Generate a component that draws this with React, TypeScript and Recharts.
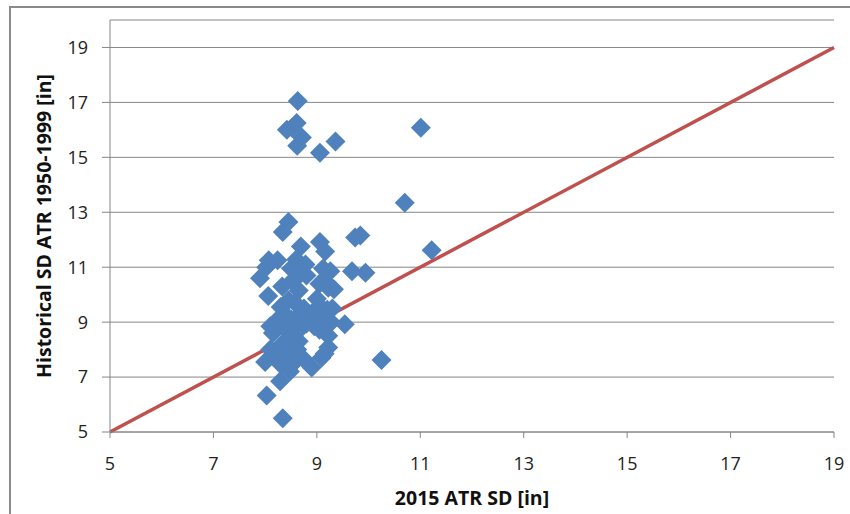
import {
  ScatterChart,
  Scatter,
  XAxis,
  YAxis,
  CartesianGrid,
  ReferenceLine,
  Label,
} from "recharts";

// 2015 ATR standard deviation per station [in]
const atr2015Sd = [
  8.63, 8.42, 8.52, 8.61, 8.71, 8.62, 9.06, 9.36, 11.01, 10.7,
  8.45, 8.34, 8.69, 9.06, 9.16, 9.74, 9.84, 11.22,
  7.9, 8.02, 8.07, 8.24, 8.06, 8.5, 8.6, 8.68, 8.78, 8.72,
  9.12, 9.26, 9.68, 9.94, 9.18, 9.33, 9.05, 8.33, 8.52, 8.65, 8.8, 9.22,
  8.3, 8.45, 8.58, 8.75, 8.9, 9.05, 9.2, 8.5, 8.65, 8.8,
  8.97, 9.13, 9.3, 9.54, 8.22, 8.1, 8.15, 8.4, 8.55, 8.7,
  9.05, 9.22, 8.35, 8.5, 8.65, 8.62, 9.22, 8.1, 8.0, 8.28,
  8.42, 8.48, 8.6, 8.75, 8.9, 9.09, 9.15, 10.25, 8.29, 8.03,
  8.34, 8.95, 9.0, 8.38, 8.2, 9.28,
];

// historical (1950-1999) ATR standard deviation for the same stations [in]
const historicalSd = [
  17.05, 16.0, 16.08, 16.25, 15.72, 15.42, 15.17, 15.58, 16.08, 13.35,
  12.65, 12.28, 11.75, 11.92, 11.57, 12.08, 12.15, 11.62,
  10.6, 11.0, 11.25, 11.25, 9.95, 10.95, 11.28, 10.75, 11.1, 11.0,
  10.95, 10.85, 10.85, 10.8, 10.45, 10.2, 10.4, 10.3, 10.5, 10.15, 10.7, 10.25,
  9.55, 9.8, 9.7, 9.5, 9.3, 9.6, 9.45, 9.1, 9.25, 8.95,
  9.1, 9.25, 9.5, 8.92, 9.05, 8.85, 8.6, 8.75, 8.5, 8.8,
  8.72, 8.5, 8.25, 8.0, 8.3, 8.0, 8.08, 8.0, 7.55, 7.5,
  7.8, 7.2, 7.6, 7.65, 7.35, 7.7, 7.85, 7.62, 6.85, 6.33,
  5.5, 8.85, 9.85, 9.3, 7.85, 9.0,
];

const axisTicks = [5, 7, 9, 11, 13, 15, 17, 19];

const points = atr2015Sd.map((x, i) => ({ x, y: historicalSd[i] }));

const font = "Open Sans, sans-serif";
const axisGray = "#868686";

function Diamond(props: any) {
  const { cx, cy } = props;
  const r = 10;
  return (
    <polygon
      points={`${cx},${cy - r} ${cx + r},${cy} ${cx},${cy + r} ${cx - r},${cy}`}
      fill="#4F81BD"
    />
  );
}

export default function App() {
  return (
    <div
      style={{
        position: "absolute",
        left: 0,
        top: 0,
        width: 850,
        height: 514,
        overflow: "hidden",
        background: "#fff",
      }}
    >
      <div
        style={{
          position: "absolute",
          left: 9,
          top: 6,
          width: 900,
          height: 600,
          border: "2px solid #8a8a8a",
        }}
      />
      <div style={{ position: "absolute", left: 0, top: 0 }}>
        <ScatterChart
          width={850}
          height={514}
          margin={{ top: 20, right: 16, bottom: 0, left: 0 }}
        >
          <CartesianGrid vertical={false} stroke={axisGray} strokeWidth={1} />
          <XAxis
            type="number"
            dataKey="x"
            domain={[5, 19]}
            ticks={axisTicks}
            height={82}
            stroke={axisGray}
            tickSize={6}
            tickMargin={19}
            tick={{ fill: "#222", fontSize: 18, fontFamily: font }}
            allowDataOverflow
          >
            <Label
              value="2015 ATR SD [in]"
              position="center"
              dy={25}
              style={{ fontFamily: font, fontSize: 19.5, fontWeight: 700, fill: "#111" }}
            />
          </XAxis>
          <YAxis
            type="number"
            dataKey="y"
            domain={[5, 20]}
            ticks={axisTicks}
            width={110}
            stroke={axisGray}
            tickSize={8}
            tickMargin={14}
            tick={{ fill: "#222", fontSize: 18, fontFamily: font }}
            allowDataOverflow
          >
            <Label
              value="Historical SD ATR 1950-1999 [in]"
              angle={-90}
              position="center"
              dx={-11}
              style={{ fontFamily: font, fontSize: 19.5, fontWeight: 700, fill: "#111", textAnchor: "middle" }}
            />
          </YAxis>
          <ReferenceLine
            segment={[
              { x: 5, y: 5 },
              { x: 19, y: 19 },
            ]}
            stroke="#C0504D"
            strokeWidth={3.5}
          />
          <Scatter data={points} shape={Diamond} isAnimationActive={false} />
        </ScatterChart>
      </div>
    </div>
  );
}
